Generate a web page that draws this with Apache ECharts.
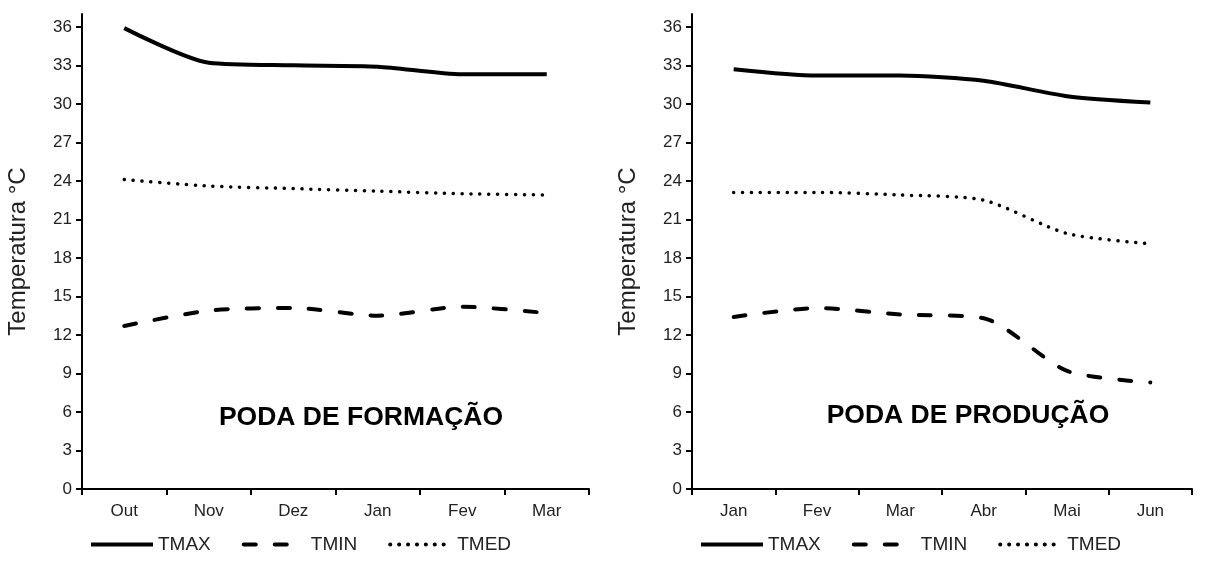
<!DOCTYPE html>
<html>
<head>
<meta charset="utf-8">
<script src="https://cdn.jsdelivr.net/npm/echarts@6/dist/echarts.min.js"></script>
<style>
html,body{margin:0;padding:0;background:#fff;}
#c{width:1208px;height:568px;}
</style>
</head>
<body>
<div id="c"></div>
<script>
var monthsFormacao = ['Out', 'Nov', 'Dez', 'Jan', 'Fev', 'Mar'];
var monthsProducao = ['Jan', 'Fev', 'Mar', 'Abr', 'Mai', 'Jun'];
var tmaxFormacao = [35.9, 33.2, 33.0, 32.9, 32.3, 32.3];
var tminFormacao = [12.7, 13.9, 14.1, 13.5, 14.2, 13.7];
var tmedFormacao = [24.1, 23.6, 23.4, 23.2, 23.0, 22.9];
var tmaxProducao = [32.7, 32.2, 32.2, 31.8, 30.6, 30.1];
var tminProducao = [13.4, 14.1, 13.6, 13.3, 9.2, 8.3];
var tmedProducao = [23.1, 23.1, 22.9, 22.5, 19.9, 19.1];
var yTicks = [0, 3, 6, 9, 12, 15, 18, 21, 24, 27, 30, 33, 36];
var titles = ['PODA DE FORMAÇÃO', 'PODA DE PRODUÇÃO'];
var yName = 'Temperatura °C';

var FONT = '"Liberation Sans", Arial, sans-serif';
var chart = echarts.init(document.getElementById('c'), null, {renderer: 'canvas'});

function xAxis(idx, cats) {
  return {
    type: 'category', gridIndex: idx, data: cats, boundaryGap: true,
    axisLine: {lineStyle: {color: '#000', width: 2}},
    axisTick: {show: true, length: 6, lineStyle: {color: '#000', width: 2}},
    axisLabel: {color: '#222', fontSize: 17, fontFamily: FONT, margin: 14},
    splitLine: {show: false}
  };
}
function yAxis(idx) {
  return {
    type: 'value', gridIndex: idx, min: 0, max: 37,
    name: yName, nameLocation: 'middle', nameGap: 52, nameRotate: 90,
    nameTextStyle: {color: '#222', fontSize: 24, fontFamily: FONT},
    axisLine: {show: true, lineStyle: {color: '#000', width: 2}},
    axisTick: {show: true, length: 6, lineStyle: {color: '#000', width: 2}, customValues: yTicks},
    axisLabel: {color: '#222', fontSize: 17, fontFamily: FONT, margin: 10, customValues: yTicks},
    splitLine: {show: false}
  };
}
function ser(name, idx, data, type, width) {
  var ls = {color: '#000', width: width, type: type};
  if (type !== 'solid') ls.cap = 'round';
  return {
    name: name, type: 'line', xAxisIndex: idx, yAxisIndex: idx, data: data,
    smooth: 0.25, symbol: 'none', lineStyle: ls, itemStyle: {color: '#000'},
    silent: true, animation: false
  };
}
var dashT = [12, 19];
var dotT = [0.1, 8.8];

function legend(left) {
  return {
    left: left, top: 530, itemWidth: 62, itemHeight: 14, itemGap: 31,
    data: ['TMAX', 'TMIN', 'TMED'], selectedMode: false,
    itemStyle: {opacity: 0},
    lineStyle: {width: 4},
    textStyle: {fontSize: 19, color: '#222', fontFamily: FONT}
  };
}

chart.setOption({
  backgroundColor: '#fff',
  animation: false,
  textStyle: {fontFamily: FONT},
  title: [
    {text: titles[0], left: 356, top: 399, textAlign: 'center',
     textStyle: {fontSize: 26.5, fontWeight: 'bold', color: '#000', fontFamily: FONT}},
    {text: titles[1], left: 963, top: 397, textAlign: 'center',
     textStyle: {fontSize: 26.5, fontWeight: 'bold', color: '#000', fontFamily: FONT}}
  ],
  grid: [
    {left: 82, top: 14, width: 507, height: 475},
    {left: 692, top: 14, width: 500, height: 475}
  ],
  xAxis: [xAxis(0, monthsFormacao), xAxis(1, monthsProducao)],
  yAxis: [yAxis(0), yAxis(1)],
  legend: [legend(84), legend(694)],
  series: [
    ser('TMAX', 0, tmaxFormacao, 'solid', 4),
    ser('TMIN', 0, tminFormacao, dashT, 4),
    ser('TMED', 0, tmedFormacao, dotT, 3.5),
    ser('TMAX', 1, tmaxProducao, 'solid', 4),
    ser('TMIN', 1, tminProducao, dashT, 4),
    ser('TMED', 1, tmedProducao, dotT, 3.5)
  ]
});
</script>
</body>
</html>
